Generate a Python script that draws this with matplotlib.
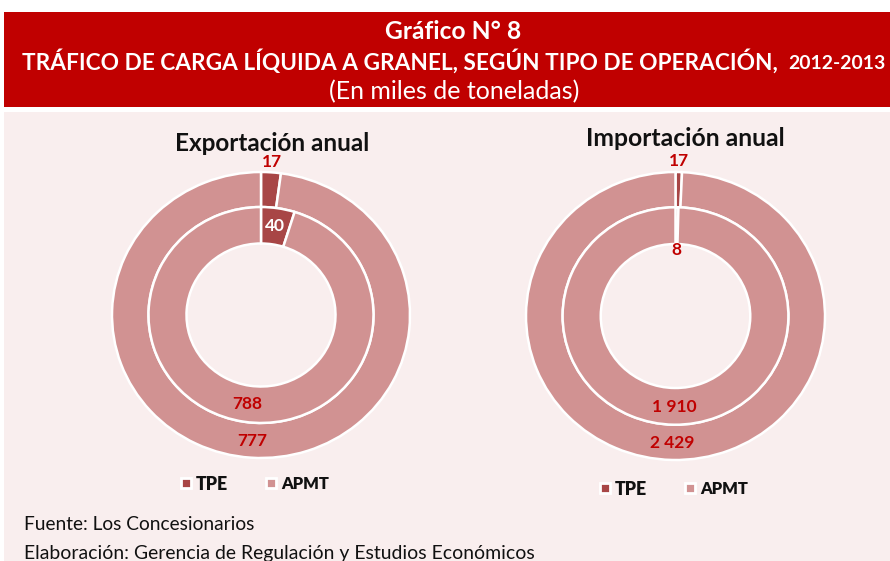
import numpy as np
import matplotlib
matplotlib.use("Agg")
import matplotlib.pyplot as plt
from matplotlib.patches import Rectangle

plt.rcParams['font.family'] = ['Lato', 'DejaVu Sans']

# ---------------- data ----------------
series = ["TPE", "APMT"]
export_inner = [40, 788]
export_outer = [17, 777]
import_inner = [8, 1910]
import_outer = [17, 2429]
chart_titles = ["Exportación anual", "Importación anual"]
header_lines = ["Gráfico N° 8",
                "TRÁFICO DE CARGA LÍQUIDA A GRANEL, SEGÚN TIPO DE OPERACIÓN,",
                "2012-2013",
                "(En miles de toneladas)"]
footer_lines = ["Fuente: Los Concesionarios",
                "Elaboración: Gerencia de Regulación y Estudios Económicos"]

# ---------------- style ----------------
W, H = 890, 561
RED = '#C00000'
BG = '#F9EEEE'
C_TPE = '#A84646'
C_APMT = '#D19292'
colors = [C_TPE, C_APMT]
LABEL_FS = 12.5

fig = plt.figure(figsize=(8.9, 5.61), dpi=100)
fig.patch.set_facecolor('white')
renderer = fig.canvas.get_renderer()

bg = fig.add_axes([0, 0, 1, 1])
bg.set_xlim(0, W)
bg.set_ylim(H, 0)
bg.axis('off')
bg.add_patch(Rectangle((4, 12), W - 4, 95, color=RED, lw=0))
bg.add_patch(Rectangle((4, 112), W - 4, H - 112, color=BG, lw=0))


def fit(t, width_px):
    bb = t.get_window_extent(renderer=renderer)
    t.set_fontsize(t.get_fontsize() * width_px / bb.width)
    return t


# header
t = bg.text(453, 31, header_lines[0], color='white', fontweight='bold',
            ha='center', va='center', fontsize=14)
fit(t, 137)
t2 = bg.text(22, 61, header_lines[1], color='white', fontweight='bold',
             ha='left', va='center', fontsize=14)
fit(t2, 760)
t3 = bg.text(788, 63, header_lines[2], color='white', fontweight='bold',
             ha='left', va='center', fontsize=11)
fit(t3, 98)
t4 = bg.text(454, 92, header_lines[3], color='white',
             ha='center', va='center', fontsize=14)
fit(t4, 252)

# footer
f1 = bg.text(24, 524, footer_lines[0], color='#111111', ha='left', va='center', fontsize=12)
fit(f1, 231)
f2 = bg.text(24, 554, footer_lines[1], color='#111111', ha='left', va='center', fontsize=12)
fit(f2, 509)


def mid_angles(vals):
    vals = np.asarray(vals, dtype=float)
    fr = vals / vals.sum()
    cum = np.concatenate([[0], np.cumsum(fr)])
    return [np.deg2rad(90 - 360 * (cum[i] + cum[i + 1]) / 2) for i in range(len(vals))]


def fmt(v):
    return f"{v:,}".replace(",", " ")


def donut(cx, cy, rx, ry, inner, outer, title, tx, ty, tw, tpe_label_cfg):
    a = fig.add_axes([(cx - rx) / W, (H - cy - ry) / H, 2 * rx / W, 2 * ry / H])
    wp = dict(edgecolor='white', linewidth=1.8)
    wo, _ = a.pie(outer, radius=1.0, colors=colors, startangle=90, counterclock=False,
                  wedgeprops=dict(width=0.245, **wp))
    wi, _ = a.pie(inner, radius=0.755, colors=colors, startangle=90, counterclock=False,
                  wedgeprops=dict(width=0.255, **wp))
    for w in list(wo) + list(wi):
        w.set_clip_on(False)
    a.set_aspect('auto')
    a.set_xlim(-1, 1)
    a.set_ylim(-1, 1)
    a.axis('off')

    mo = mid_angles(outer)
    mi = mid_angles(inner)
    # APMT labels in the middle of the rings
    a.text(0.88 * np.cos(mo[1]), 0.88 * np.sin(mo[1]), fmt(outer[1]), color=RED,
           fontweight='bold', ha='center', va='center', fontsize=LABEL_FS)
    a.text(0.63 * np.cos(mi[1]), 0.63 * np.sin(mi[1]), fmt(inner[1]), color=RED,
           fontweight='bold', ha='center', va='center', fontsize=LABEL_FS)
    # TPE labels
    (ro, co), (ri, ci) = tpe_label_cfg
    a.text(ro * np.cos(mo[0]), ro * np.sin(mo[0]), fmt(outer[0]), color=co,
           fontweight='bold', ha='center', va='center', fontsize=LABEL_FS)
    a.text(ri * np.cos(mi[0]), ri * np.sin(mi[0]), fmt(inner[0]), color=ci,
           fontweight='bold', ha='center', va='center', fontsize=LABEL_FS)

    tt = bg.text(tx, ty, title, color='#111111', fontweight='bold',
                 ha='center', va='center', fontsize=15)
    fit(tt, tw)


donut(261, 315, 149, 143, export_inner, export_outer, chart_titles[0], 272, 143, 195,
      ((1.07, RED), (0.63, 'white')))
donut(675.5, 316, 149.5, 144, import_inner, import_outer, chart_titles[1], 685, 138, 200,
      ((1.08, RED), (0.46, RED)))


def legend(x_tpe, x_apmt, y):
    for xs, lab, c in [(x_tpe, series[0], C_TPE), (x_apmt, series[1], C_APMT)]:
        bg.plot([xs], [y], marker='s', markersize=7, markerfacecolor=c,
                markeredgecolor='white', markeredgewidth=2, linestyle='none')
        tl = bg.text(xs + 10, y + 1, lab, color='#111111', fontweight='heavy',
                     ha='left', va='center', fontsize=12)
        fit(tl, 32 if lab == 'TPE' else 48)


legend(186, 271, 483)
legend(605, 690, 488)

fig.savefig('out.png', dpi=100, facecolor=fig.get_facecolor())
